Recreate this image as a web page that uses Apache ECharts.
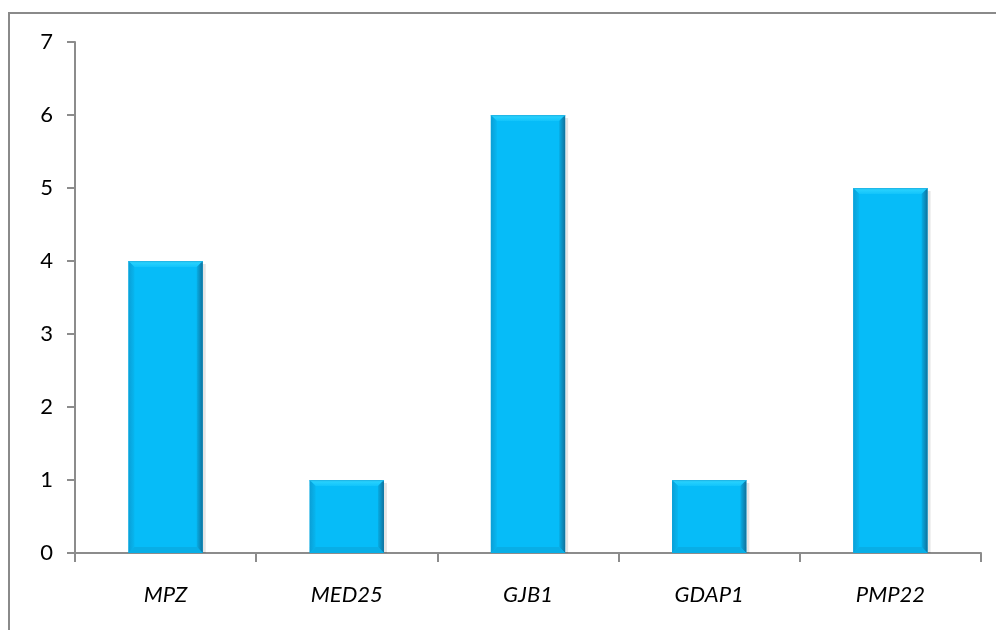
<!DOCTYPE html>
<html><head><meta charset="utf-8">
<script src="https://cdn.jsdelivr.net/npm/echarts@6/dist/echarts.min.js"></script>
<style>html,body{margin:0;padding:0;background:#fff}#c{width:996px;height:630px}</style>
</head><body><div id="c"></div>
<script>
var categories = ['MPZ', 'MED25', 'GJB1', 'GDAP1', 'PMP22'];
var values = [4, 1, 6, 1, 5];
var yTicks = [0, 1, 2, 3, 4, 5, 6, 7];

var chart = echarts.init(document.getElementById('c'));
var FONT = 'Lato';

function renderBar(params, api) {
  var idx = api.value(0), v = api.value(1);
  var top = api.coord([idx, v]);
  var base = api.coord([idx, 0]);
  var w = api.size([1, 0])[0] * 0.41;
  var x0 = top[0] - w / 2, x1 = top[0] + w / 2, y0 = top[1], y1 = base[1];
  var b = 6;
  return {
    type: 'group',
    children: [
      { type: 'rect', shape: { x: x0 + 3, y: y0 + 3, width: w, height: y1 - y0 - 3 },
        style: { fill: 'rgba(0,0,0,0.10)' } },
      { type: 'rect', shape: { x: x0, y: y0, width: w, height: y1 - y0 },
        style: { fill: '#06bcf8' } },
      { type: 'polygon', shape: { points: [[x0, y0], [x1, y0], [x1 - b, y0 + b], [x0 + b, y0 + b]] },
        style: { fill: new echarts.graphic.LinearGradient(0, 0, 0, 1, [{offset: 0, color: '#2fd6ff'}, {offset: 1, color: '#12c4fb'}]) } },
      { type: 'polygon', shape: { points: [[x0, y0], [x0 + b, y0 + b], [x0 + b, y1 - b], [x0, y1]] },
        style: { fill: new echarts.graphic.LinearGradient(0, 0, 1, 0, [{offset: 0, color: '#0a9fd6'}, {offset: 1, color: '#07b6f0'}]) } },
      { type: 'polygon', shape: { points: [[x1, y0], [x1, y1], [x1 - b, y1 - b], [x1 - b, y0 + b]] },
        style: { fill: new echarts.graphic.LinearGradient(0, 0, 1, 0, [{offset: 0, color: '#06aee6'}, {offset: 1, color: '#10719c'}]) } },
      { type: 'polygon', shape: { points: [[x0, y1], [x0 + b, y1 - b], [x1 - b, y1 - b], [x1, y1]] },
        style: { fill: '#08aee6' } },
      { type: 'rect', shape: { x: x0, y: y0, width: w, height: 1.2 },
        style: { fill: '#20b8e8' } }
    ]
  };
}

chart.setOption({
  animation: false,
  backgroundColor: '#fff',
  graphic: [{
    type: 'rect', shape: { x: 9, y: 13, width: 1100, height: 800 },
    style: { fill: 'none', stroke: '#8a8a8a', lineWidth: 2 }, z: 10
  }],
  grid: { left: 75, right: 15, top: 42, bottom: 77 },
  xAxis: {
    type: 'category', data: categories,
    axisLine: { lineStyle: { color: '#8c8c8c', width: 2 } },
    axisTick: { show: true, length: 9, lineStyle: { color: '#8c8c8c', width: 2 } },
    axisLabel: { fontFamily: FONT, fontSize: 22, fontStyle: 'italic', color: '#000', margin: 31 }
  },
  yAxis: {
    type: 'value', min: yTicks[0], max: yTicks[yTicks.length - 1], interval: 1,
    axisLine: { show: true, lineStyle: { color: '#8c8c8c', width: 2 } },
    axisTick: { show: true, length: 8, lineStyle: { color: '#8c8c8c', width: 2 } },
    splitLine: { show: false },
    axisLabel: { fontFamily: FONT, fontSize: 22, color: '#000', margin: 22 }
  },
  series: [{
    type: 'custom',
    renderItem: renderBar,
    data: values.map(function (v, i) { return [i, v]; }),
    encode: { x: 0, y: 1 }
  }]
});
</script></body></html>
